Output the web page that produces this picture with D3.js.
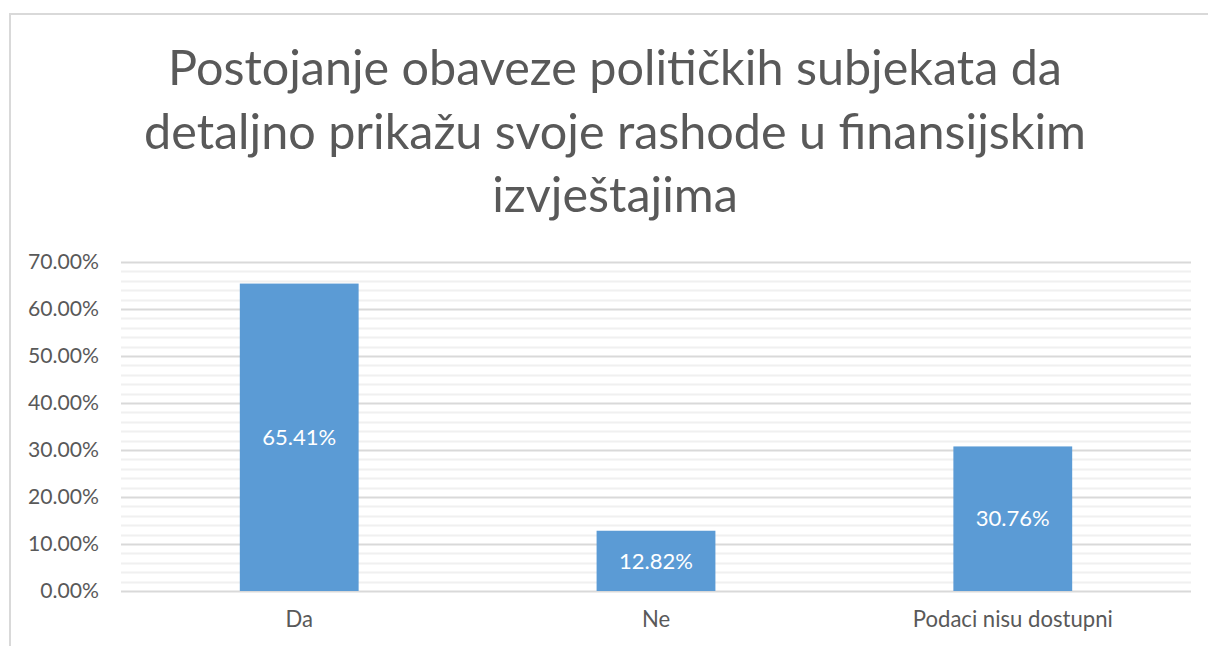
<!DOCTYPE html>
<html>
<head>
<meta charset="utf-8">
<script src="https://cdn.jsdelivr.net/npm/d3@7"></script>
<style>
  body { margin: 0; background: #fff; }
  svg { display: block; font-family: Lato, "Open Sans", sans-serif; }
</style>
</head>
<body>
<script>
// chart data
const categories = ['Da', 'Ne', 'Podaci nisu dostupni'];
const values = [65.41, 12.82, 30.76];
const majorTicks = [0, 10, 20, 30, 40, 50, 60, 70];
const titleLines = ['Postojanje obaveze političkih subjekata da',
                    'detaljno prikažu svoje rashode u finansijskim',
                    'izvještajima'];

const width = 1208, height = 646;
const margin = {top: 262, right: 17, bottom: 55, left: 121};

const svg = d3.select('body').append('svg')
    .attr('width', width)
    .attr('height', height);

// scale a text selection's font size so that one sample node gets the wanted width
function fitFont(sel, sampleNode, targetWidth, startSize) {
  sel.style('font-size', startSize + 'px');
  const w = sampleNode.getComputedTextLength();
  const size = startSize * targetWidth / w;
  sel.style('font-size', size.toFixed(2) + 'px');
}

// chart frame (only top and left edges visible)
svg.append('path')
    .attr('d', `M10,${height} V14 H${width}`)
    .attr('fill', 'none')
    .attr('stroke', '#d9d9d9')
    .attr('stroke-width', 2);

const x = d3.scaleBand()
    .domain(categories)
    .range([margin.left, width - margin.right])
    .paddingInner(0.667)
    .paddingOuter(0.333);

const y = d3.scaleLinear()
    .domain([0, 70])
    .range([height - margin.bottom, margin.top]);

// minor gridlines every 2%
const minorTicks = d3.range(0, 70, 2).filter(d => d % 10 !== 0);
svg.append('g').selectAll('line')
    .data(minorTicks)
    .enter()
  .append('line')
    .attr('x1', margin.left)
    .attr('x2', width - margin.right)
    .attr('y1', d => Math.round(y(d)) + 0.5)
    .attr('y2', d => Math.round(y(d)) + 0.5)
    .attr('stroke', '#f0f0f0')
    .attr('stroke-width', 2);

// major gridlines
svg.append('g').selectAll('line')
    .data(majorTicks)
    .enter()
  .append('line')
    .attr('x1', margin.left)
    .attr('x2', width - margin.right)
    .attr('y1', d => Math.round(y(d)) + 0.5)
    .attr('y2', d => Math.round(y(d)) + 0.5)
    .attr('stroke', '#d9d9d9')
    .attr('stroke-width', 2);

// y axis labels
const yAxis = d3.axisLeft(y)
    .tickValues(majorTicks)
    .tickFormat(d => d.toFixed(2) + '%')
    .tickSize(0)
    .tickPadding(22);

const gy = svg.append('g')
    .attr('transform', `translate(${margin.left},0)`)
    .call(yAxis);
gy.select('.domain').remove();
const yLabels = gy.selectAll('text')
    .attr('fill', '#595959')
    .style('font-family', 'Lato, sans-serif');
fitFont(yLabels, yLabels.nodes()[yLabels.size() - 1], 71, 18);

// bars
svg.append('g').selectAll('rect')
    .data(values)
    .enter()
  .append('rect')
    .attr('x', (d, i) => x(categories[i]))
    .attr('width', x.bandwidth())
    .attr('y', d => y(d))
    .attr('height', d => y(0) - y(d))
    .attr('fill', '#5b9bd5');

// value labels in the middle of each bar
const valueLabels = svg.append('g').selectAll('text')
    .data(values)
    .enter()
  .append('text')
    .attr('x', (d, i) => x(categories[i]) + x.bandwidth() / 2)
    .attr('y', d => (y(d) + y(0)) / 2)
    .attr('dy', '0.35em')
    .attr('text-anchor', 'middle')
    .attr('fill', '#fff')
    .text(d => d.toFixed(2) + '%');
fitFont(valueLabels, valueLabels.nodes()[2], 74, 18);

// x axis labels
const xAxis = d3.axisBottom(x).tickSize(0).tickPadding(20);
const gx = svg.append('g')
    .attr('transform', `translate(0,${y(0)})`)
    .call(xAxis);
gx.select('.domain').remove();
const xLabels = gx.selectAll('text')
    .attr('fill', '#595959')
    .style('font-family', 'Lato, sans-serif');
fitFont(xLabels, xLabels.nodes()[2], 200, 18);

// title
const title = svg.append('text')
    .attr('text-anchor', 'middle')
    .attr('fill', '#595959')
    .style('font-weight', 400);

title.selectAll('tspan')
    .data(titleLines)
    .enter()
  .append('tspan')
    .attr('x', 615)
    .attr('y', (d, i) => 85 + i * 63.5)
    .text(d => d);
fitFont(title, title.select('tspan').node(), 894, 46);
</script>
</body>
</html>
